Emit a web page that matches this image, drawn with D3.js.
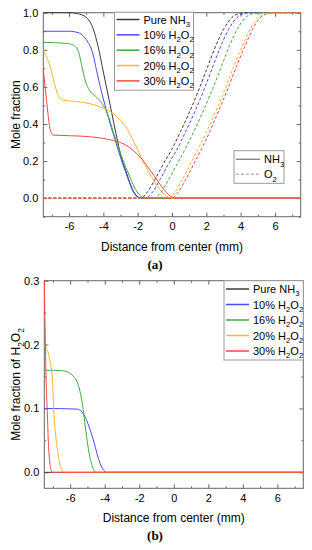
<!DOCTYPE html>
<html>
<head>
<meta charset="utf-8">
<script src="https://cdn.jsdelivr.net/npm/d3@7"></script>
<style>
  body { margin: 0; background: #fff; }
  svg { display: block; font-family: "Liberation Sans", Arial, sans-serif; }
</style>
</head>
<body>
<div id="chart"></div>
<script>
// ---- data ----
var caseNames = ['Pure NH_3', '10% H_2O_2', '16% H_2O_2', '20% H_2O_2', '30% H_2O_2']
var caseColors = ['#3a3a3a', '#4a4aff', '#3fae3f', '#ffb52e', '#ff4545']

var xTicks = [-6, -4, -2, 0, 2, 4, 6]
var xMinor = [-7, -5, -3, -1, 1, 3, 5, 7]
var yTicksA = [0, 0.2, 0.4, 0.6, 0.8, 1.0]
var yMinorA = [-0.1, 0.1, 0.3, 0.5, 0.7, 0.9]
var yTicksB = [0, 0.1, 0.2, 0.3]
var yMinorB = [0.05, 0.15, 0.25]

// (a) NH3 mole fraction, [distance mm, value]
var nh3Pure = [[-7.5,1.0],[-6.0,1.0],[-5.5,0.995],[-5.0,0.975],[-4.6,0.915],[-4.3,0.815],[-4.0,0.68],[-3.6,0.5],[-3.2,0.32],[-3.0,0.235],[-2.7,0.15],[-2.45,0.082],[-2.2,0.03],[-2.0,0.008],[-1.8,0],[7.5,0]]
var nh3H10 = [[-7.5,0.9],[-6.0,0.9],[-5.4,0.89],[-5.0,0.855],[-4.6,0.775],[-4.4,0.69],[-4.1,0.57],[-3.9,0.5],[-3.6,0.4],[-3.3,0.31],[-3.0,0.22],[-2.7,0.14],[-2.45,0.075],[-2.2,0.025],[-2.0,0.005],[-1.85,0],[7.5,0]]
var nh3H16 = [[-7.5,0.84],[-6.2,0.835],[-5.75,0.825],[-5.45,0.79],[-5.25,0.71],[-5.06,0.636],[-4.8,0.58],[-4.4,0.545],[-4.0,0.5],[-3.7,0.44],[-3.4,0.35],[-3.1,0.27],[-2.8,0.19],[-2.5,0.125],[-2.2,0.06],[-1.9,0.018],[-1.65,0.003],[-1.5,0],[7.5,0]]
var nh3H20 = [[-7.5,0.8],[-7.3,0.76],[-7.1,0.71],[-6.8,0.6],[-6.6,0.548],[-6.3,0.528],[-5.5,0.52],[-4.6,0.505],[-4.0,0.485],[-3.4,0.455],[-3.0,0.42],[-2.6,0.37],[-2.2,0.3],[-1.8,0.22],[-1.4,0.15],[-1.0,0.085],[-0.6,0.035],[-0.3,0.01],[0,0],[7.5,0]]
var nh3H30 = [[-7.5,0.7],[-7.42,0.62],[-7.3,0.52],[-7.17,0.41],[-7.05,0.355],[-6.9,0.34],[-5.2,0.334],[-4.2,0.325],[-3.4,0.31],[-3.0,0.3],[-2.5,0.275],[-2.0,0.235],[-1.5,0.18],[-1.0,0.115],[-0.5,0.05],[-0.1,0.012],[0.2,0],[7.5,0]]

// (a) O2 mole fraction
var o2Pure = [[-7.5,0],[-1.8,0],[-1.5,0.025],[-1.0,0.1],[-0.5,0.185],[0,0.265],[0.5,0.36],[1.0,0.46],[1.5,0.57],[2.0,0.69],[2.5,0.81],[3.0,0.91],[3.5,0.975],[4.0,0.997],[4.5,1.0],[7.5,1.0]]
var o2H10 = [[-7.5,0],[-1.55,0],[-1.2,0.025],[-0.7,0.1],[-0.2,0.185],[0.3,0.265],[0.8,0.36],[1.3,0.46],[1.8,0.57],[2.3,0.69],[2.8,0.81],[3.3,0.91],[3.8,0.975],[4.3,0.997],[4.8,1.0],[7.5,1.0]]
var o2H16 = [[-7.5,0],[-1.05,0],[-0.7,0.025],[-0.2,0.1],[0.3,0.185],[0.8,0.27],[1.3,0.365],[1.8,0.465],[2.3,0.575],[2.8,0.69],[3.3,0.81],[3.8,0.91],[4.3,0.975],[4.8,0.997],[5.3,1.0],[7.5,1.0]]
var o2H20 = [[-7.5,0],[-0.25,0],[0.1,0.025],[0.6,0.1],[1.1,0.19],[1.6,0.28],[2.1,0.375],[2.6,0.48],[3.1,0.59],[3.6,0.71],[4.1,0.82],[4.6,0.92],[5.1,0.98],[5.6,0.998],[6.0,1.0],[7.5,1.0]]
var o2H30 = [[-7.5,0],[0.0,0],[0.3,0.025],[0.8,0.1],[1.3,0.19],[1.8,0.28],[2.3,0.38],[2.8,0.49],[3.3,0.6],[3.8,0.72],[4.3,0.83],[4.8,0.93],[5.3,0.985],[5.8,0.999],[6.2,1.0],[7.5,1.0]]

// (b) H2O2 mole fraction
var h2o2Pure = [[-7.5,0],[7.5,0]]
var h2o2H10 = [[-7.5,0.1],[-5.6,0.099],[-5.2,0.09],[-4.9,0.071],[-4.6,0.045],[-4.35,0.02],[-4.05,0.003],[-3.85,0],[7.5,0]]
var h2o2H16 = [[-7.5,0.16],[-6.4,0.159],[-5.8,0.15],[-5.5,0.134],[-5.3,0.108],[-5.1,0.066],[-4.9,0.029],[-4.7,0.008],[-4.5,0],[7.5,0]]
var h2o2H20 = [[-7.5,0.2],[-7.4,0.195],[-7.22,0.181],[-7.03,0.144],[-6.94,0.092],[-6.76,0.04],[-6.55,0.008],[-6.35,0],[7.5,0]]
var h2o2H30 = [[-7.5,0.3],[-7.47,0.25],[-7.43,0.19],[-7.38,0.13],[-7.32,0.09],[-7.27,0.05],[-7.2,0.02],[-7.12,0.005],[-7.05,0],[7.5,0]]

var nh3Series = [nh3Pure, nh3H10, nh3H16, nh3H20, nh3H30]
var o2Series = [o2Pure, o2H10, o2H16, o2H20, o2H30]
var h2o2Series = [h2o2Pure, h2o2H10, h2o2H16, h2o2H20, h2o2H30]

// ---- drawing ----
var width = 312, height = 550
var svg = d3.select('#chart').append('svg')
  .attr('width', width)
  .attr('height', height)

// text with "_n" subscripts
function rich(t, str) {
  var fs = +t.attr('font-size')
  var parts = str.split(/_(\d)/)
  parts.forEach(function (p, i) {
    if (i % 2 == 1) {
      t.append('tspan').attr('font-size', fs * 0.7).attr('dy', fs * 0.3).text(p)
    } else if (p) {
      var ts = t.append('tspan').text(p)
      if (i > 0) ts.attr('dy', -fs * 0.3)
    }
  })
  return t
}

function panel(cfg) {
  var g = svg.append('g')
  var x = d3.scaleLinear().domain([-7.5, 7.5]).range([cfg.left, cfg.right])
  var y = d3.scaleLinear().domain(cfg.yDomain).range([cfg.bottom, cfg.top])

  function ax(axis, tr, vals, size, fmt, pad) {
    var a = g.append('g').attr('transform', tr)
      .call(axis.tickValues(vals).tickSize(size).tickSizeOuter(0).tickPadding(pad || 3).tickFormat(fmt))
    a.select('.domain').remove()
    a.selectAll('line').attr('stroke', '#666')
    a.selectAll('text').attr('font-size', 11).attr('fill', '#000')
      .attr('font-family', '"Liberation Sans", Arial, sans-serif')
    return a
  }
  var none = function () { return '' }
  var yFmt = d3.format('.1f')
  // bottom / top
  ax(d3.axisBottom(x), `translate(0,${cfg.bottom})`, xTicks, -4, function (d) { return String(d) }, 6)
  ax(d3.axisBottom(x), `translate(0,${cfg.bottom})`, xMinor, -2, none)
  ax(d3.axisTop(x), `translate(0,${cfg.top})`, xTicks, -4, none)
  ax(d3.axisTop(x), `translate(0,${cfg.top})`, xMinor, -2, none)
  // left / right
  ax(d3.axisLeft(y), `translate(${cfg.left},0)`, cfg.yTicks, -4, yFmt, 5)
  ax(d3.axisLeft(y), `translate(${cfg.left},0)`, cfg.yMinor, -2, none)
  ax(d3.axisRight(y), `translate(${cfg.right},0)`, cfg.yTicks, -4, none)
  ax(d3.axisRight(y), `translate(${cfg.right},0)`, cfg.yMinor, -2, none)

  g.append('rect')
    .attr('x', cfg.left).attr('y', cfg.top)
    .attr('width', cfg.right - cfg.left).attr('height', cfg.bottom - cfg.top)
    .attr('fill', 'none').attr('stroke', '#666').attr('stroke-width', 1)

  var line = d3.line()
    .x(function (d) { return x(d[0]) })
    .y(function (d) { return y(d[1]) })
    .curve(d3.curveMonotoneX)

  cfg.groups.forEach(function (grp) {
    g.append('g').selectAll('path')
      .data(grp.series)
      .enter().append('path')
      .attr('d', line)
      .attr('fill', 'none')
      .attr('stroke', function (d, i) { return caseColors[i] })
      .attr('stroke-width', 1)
      .attr('stroke-dasharray', grp.dash || null)
  })

  // axis titles
  g.append('text')
    .attr('x', (cfg.left + cfg.right) / 2).attr('y', cfg.bottom + 34)
    .attr('text-anchor', 'middle').attr('font-size', 12)
    .text('Distance from center (mm)')
  rich(g.append('text')
    .attr('transform', `translate(20,${(cfg.top + cfg.bottom) / 2}) rotate(-90)`)
    .attr('text-anchor', 'middle').attr('font-size', 12), cfg.yTitle)
  g.append('text')
    .attr('x', 155).attr('y', cfg.bottom + 52)
    .attr('text-anchor', 'middle').attr('font-size', 13)
    .attr('font-weight', 'bold').attr('font-family', '"Liberation Serif", "Times New Roman", serif')
    .text(cfg.tag)

  return g
}

function legend(g, box, items) {
  g.append('rect')
    .attr('x', box.x).attr('y', box.y).attr('width', box.w).attr('height', box.h)
    .attr('fill', '#fff').attr('stroke', '#999').attr('stroke-width', 1)
  items.forEach(function (it, i) {
    var cy = box.y + box.first + i * box.step
    g.append('line')
      .attr('x1', box.x + 2).attr('x2', box.x + box.lineW)
      .attr('y1', cy).attr('y2', cy)
      .attr('stroke', it.color).attr('stroke-width', it.width || 1.5)
      .attr('stroke-dasharray', it.dash || null)
    rich(g.append('text')
      .attr('x', box.x + box.lineW + 4).attr('y', cy + 4)
      .attr('font-size', 11), it.label)
  })
}

var caseItems = caseNames.map(function (n, i) { return { label: n, color: caseColors[i] } })

// panel (a)
var ga = panel({
  left: 43.3, right: 300.7, top: 12.7, bottom: 216.7,
  yDomain: [-0.1, 1.0], yTicks: yTicksA, yMinor: yMinorA,
  yTitle: 'Mole fraction', tag: '(a)',
  groups: [{ series: nh3Series }, { series: o2Series, dash: '3,2' }]
})
legend(ga, { x: 114.5, y: 12.2, w: 79, h: 78, first: 7.3, step: 15.35, lineW: 25 }, caseItems)
legend(ga, { x: 234, y: 150.7, w: 50, h: 32.6, first: 8.5, step: 15, lineW: 26 }, [
  { label: 'NH_3', color: '#555', width: 1 },
  { label: 'O_2', color: '#999', width: 1, dash: '3,2' }
])

// panel (b)
var gb = panel({
  left: 44.3, right: 303.3, top: 280.7, bottom: 488.3,
  yDomain: [-0.025, 0.3], yTicks: yTicksB, yMinor: yMinorB,
  yTitle: 'Mole fraction of H_2O_2', tag: '(b)',
  groups: [{ series: h2o2Series }]
})
legend(gb, { x: 224, y: 280.7, w: 79.3, h: 79.3, first: 8.3, step: 15.5, lineW: 25 }, caseItems)
</script>
</body>
</html>
